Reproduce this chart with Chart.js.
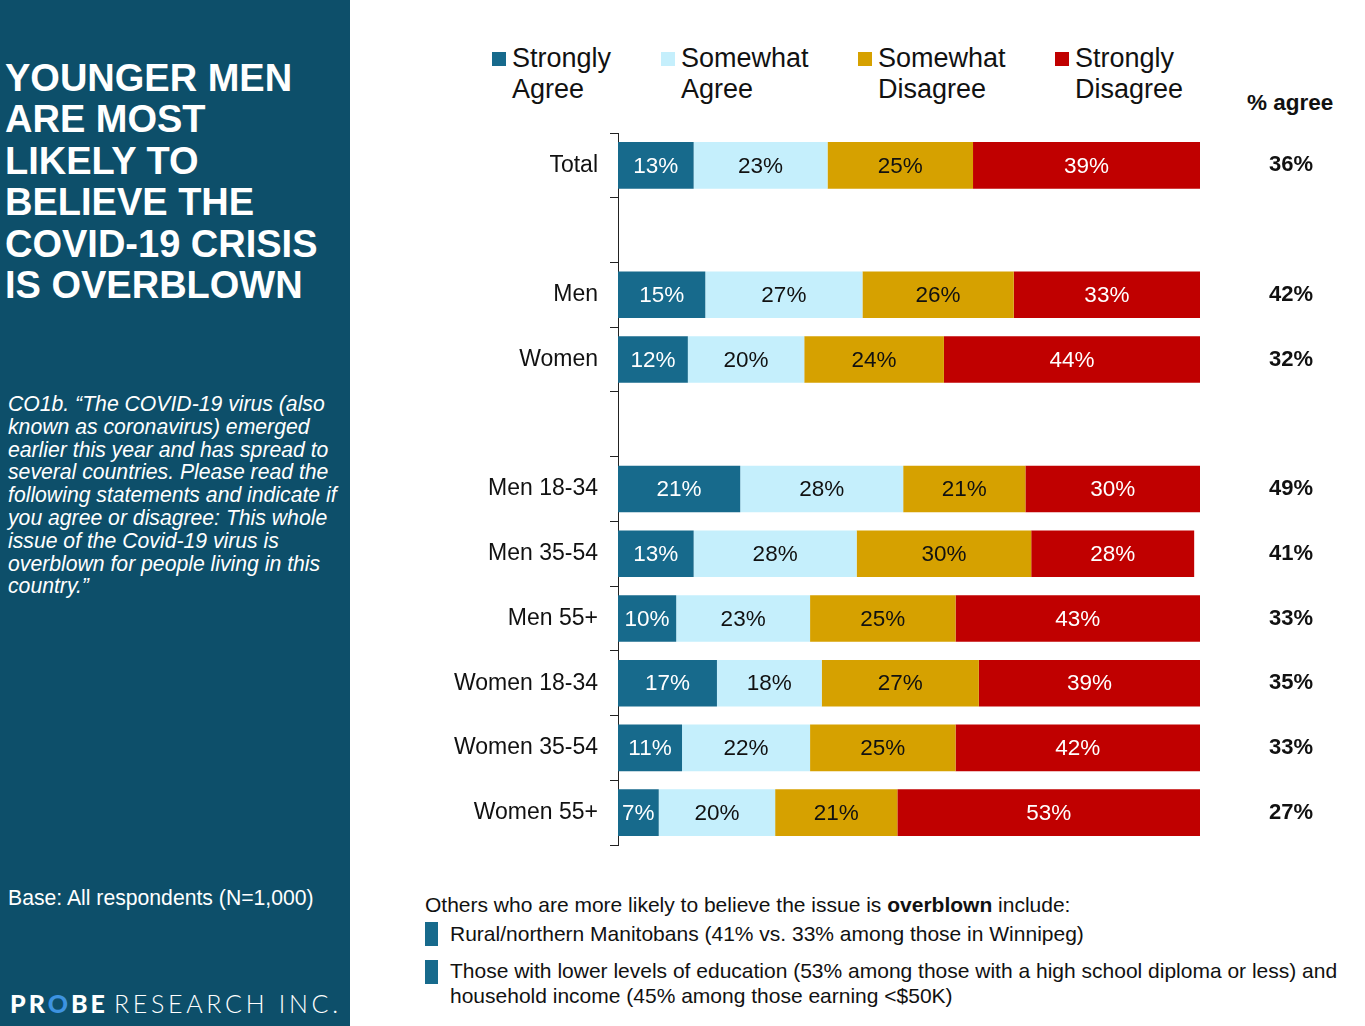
<!DOCTYPE html>
<html>
<head>
<meta charset="utf-8">
<script src="https://cdn.jsdelivr.net/npm/chart.js@4/dist/chart.umd.min.js"></script>
<style>
  body { margin: 0; background: #fff; font-family: Arial, "Liberation Sans", sans-serif; }
  #page { position: relative; width: 1365px; height: 1026px; overflow: hidden; }
  #side { position: absolute; left: 0; top: 0; width: 350px; height: 1026px; background: #0d4f6a; color: #fff; }
  #title { position: absolute; left: 5px; top: 58px; font-weight: bold; font-size: 38px; line-height: 41.4px; }
  #question { position: absolute; left: 8px; top: 393px; font-style: italic; font-size: 21.2px; line-height: 22.8px; white-space: nowrap; }
  #base { position: absolute; left: 8px; top: 886px; font-size: 21.2px; }
  #logo { position: absolute; left: 10px; top: 988px; font-family: Lato, sans-serif; font-size: 25px; white-space: nowrap; }
  #logo b { font-weight: 900; letter-spacing: 3px; }
  #logo b span { color: #3d93e0; }
  #logo i { font-style: normal; font-weight: 300; letter-spacing: 3.7px; margin-left: 6px; }
  #chart { position: absolute; left: 350px; top: 0; }
  .leg { position: absolute; top: 43px; font-size: 27px; line-height: 31px; color: #111; white-space: nowrap; }
  .leg .sw { position: absolute; left: -20px; top: 9px; width: 14px; height: 14px; }
  #agreeHead { position: absolute; left: 1247px; top: 90px; font-size: 22.5px; font-weight: bold; color: #111; }
  #notes { position: absolute; left: 425px; top: 893px; font-size: 21px; color: #111; }
  .bul { position: absolute; left: 0; width: 13px; height: 24px; background: #176a8c; }
  .bt { position: absolute; left: 25px; line-height: 25px; white-space: nowrap; }
</style>
</head>
<body>
<div id="page">
  <div id="side">
    <div id="title">YOUNGER MEN<br>ARE MOST<br>LIKELY TO<br>BELIEVE THE<br>COVID-19 CRISIS<br>IS OVERBLOWN</div>
    <div id="question">CO1b. “The COVID-19 virus (also<br>known as coronavirus) emerged<br>earlier this year and has spread to<br>several countries. Please read the<br>following statements and indicate if<br>you agree or disagree: This whole<br>issue of the Covid-19 virus is<br>overblown for people living in this<br>country.”</div>
    <div id="base">Base: All respondents (N=1,000)</div>
    <div id="logo"><b>PR<span>O</span>BE</b><i>RESEARCH INC.</i></div>
  </div>

  <div id="legend"></div>
  <div id="agreeHead">% agree</div>

  <canvas id="chart" width="1015" height="880"></canvas>

  <div id="notes">
    <div style="white-space:nowrap">Others who are more likely to believe the issue is <b>overblown</b> include:</div>
    <div class="bul" style="top:29px"></div>
    <div class="bt" style="top:28px">Rural/northern Manitobans (41% vs. 33% among those in Winnipeg)</div>
    <div class="bul" style="top:67px"></div>
    <div class="bt" style="top:65px">Those with lower levels of education (53% among those with a high school diploma or less) and<br>household income (45% among those earning &lt;$50K)</div>
  </div>
</div>

<script>
// categorias (las vacias son huecos entre grupos)
const categories = ["Total", "", "Men", "Women", "", "Men 18-34", "Men 35-54", "Men 55+", "Women 18-34", "Women 35-54", "Women 55+"];

const seriesNames = ["Strongly Agree", "Somewhat Agree", "Somewhat Disagree", "Strongly Disagree"];
const stronglyAgree = [13, null, 15, 12, null, 21, 13, 10, 17, 11, 7];
const somewhatAgree = [23, null, 27, 20, null, 28, 28, 23, 18, 22, 20];
const somewhatDisagree = [25, null, 26, 24, null, 21, 30, 25, 27, 25, 21];
const stronglyDisagree = [39, null, 33, 44, null, 30, 28, 43, 39, 42, 53];
const pctAgree = [36, null, 42, 32, null, 49, 41, 33, 35, 33, 27];

const colors = ["#176a8c", "#c5effc", "#d6a100", "#c00000"];
const labelColors = ["#fff", "#111", "#111", "#fff"];

// leyenda en HTML (etiquetas de dos lineas)
const legendX = [512, 681, 878, 1075];
const legendEl = document.getElementById("legend");
seriesNames.forEach((name, i) => {
    const parts = name.split(" ");
    const d = document.createElement("div");
    d.className = "leg";
    d.style.left = legendX[i] + "px";
    d.innerHTML = `<span class="sw" style="background:${colors[i]}"></span>${parts[0]}<br>${parts[1]}`;
    legendEl.appendChild(d);
});

// etiquetas de porcentaje dentro de las barras y columna "% agree"
const valueLabels = {
    id: "valueLabels",
    afterDatasetsDraw(chart) {
        const ctx = chart.ctx;
        ctx.save();
        ctx.textAlign = "center";
        ctx.textBaseline = "middle";
        ctx.font = "22.5px Arial";
        chart.data.datasets.forEach((ds, di) => {
            const meta = chart.getDatasetMeta(di);
            meta.data.forEach((bar, i) => {
                if (ds.data[i] == null) return;
                const right = Math.min(bar.x, chart.chartArea.right);
                ctx.fillStyle = labelColors[di];
                ctx.fillText(ds.data[i] + "%", (bar.base + right) / 2, bar.y + 1);
            });
        });
        ctx.font = "bold 22px Arial";
        ctx.fillStyle = "#111";
        const yScale = chart.scales.y;
        pctAgree.forEach((v, i) => {
            if (v == null) return;
            ctx.fillText(v + "%", 1291 - 350, yScale.getPixelForValue(i));
        });
        ctx.restore();
    }
};

new Chart(document.getElementById("chart"), {
    type: "bar",
    data: {
        labels: categories,
        datasets: [stronglyAgree, somewhatAgree, somewhatDisagree, stronglyDisagree].map((d, i) => ({
            label: seriesNames[i],
            data: d,
            backgroundColor: colors[i],
            borderWidth: 0,
            barPercentage: 0.72,
            categoryPercentage: 1,
        })),
    },
    options: {
        indexAxis: "y",
        responsive: false,
        animation: false,
        devicePixelRatio: 1,
        layout: { padding: { top: 133, bottom: 35, right: 165, left: 0 } },
        plugins: { legend: { display: false }, tooltip: { enabled: false } },
        scales: {
            x: { stacked: true, min: 0, max: 100, display: false },
            y: {
                stacked: true,
                afterFit: (s) => { s.width = 268; },
                border: { display: true, color: "#222", width: 1 },
                grid: { drawOnChartArea: false, tickLength: 8, color: "#222", offset: true },
                ticks: { font: { family: "Arial", size: 23 }, color: "#111", padding: 12 },
            },
        },
    },
    plugins: [valueLabels],
});
</script>
</body>
</html>
